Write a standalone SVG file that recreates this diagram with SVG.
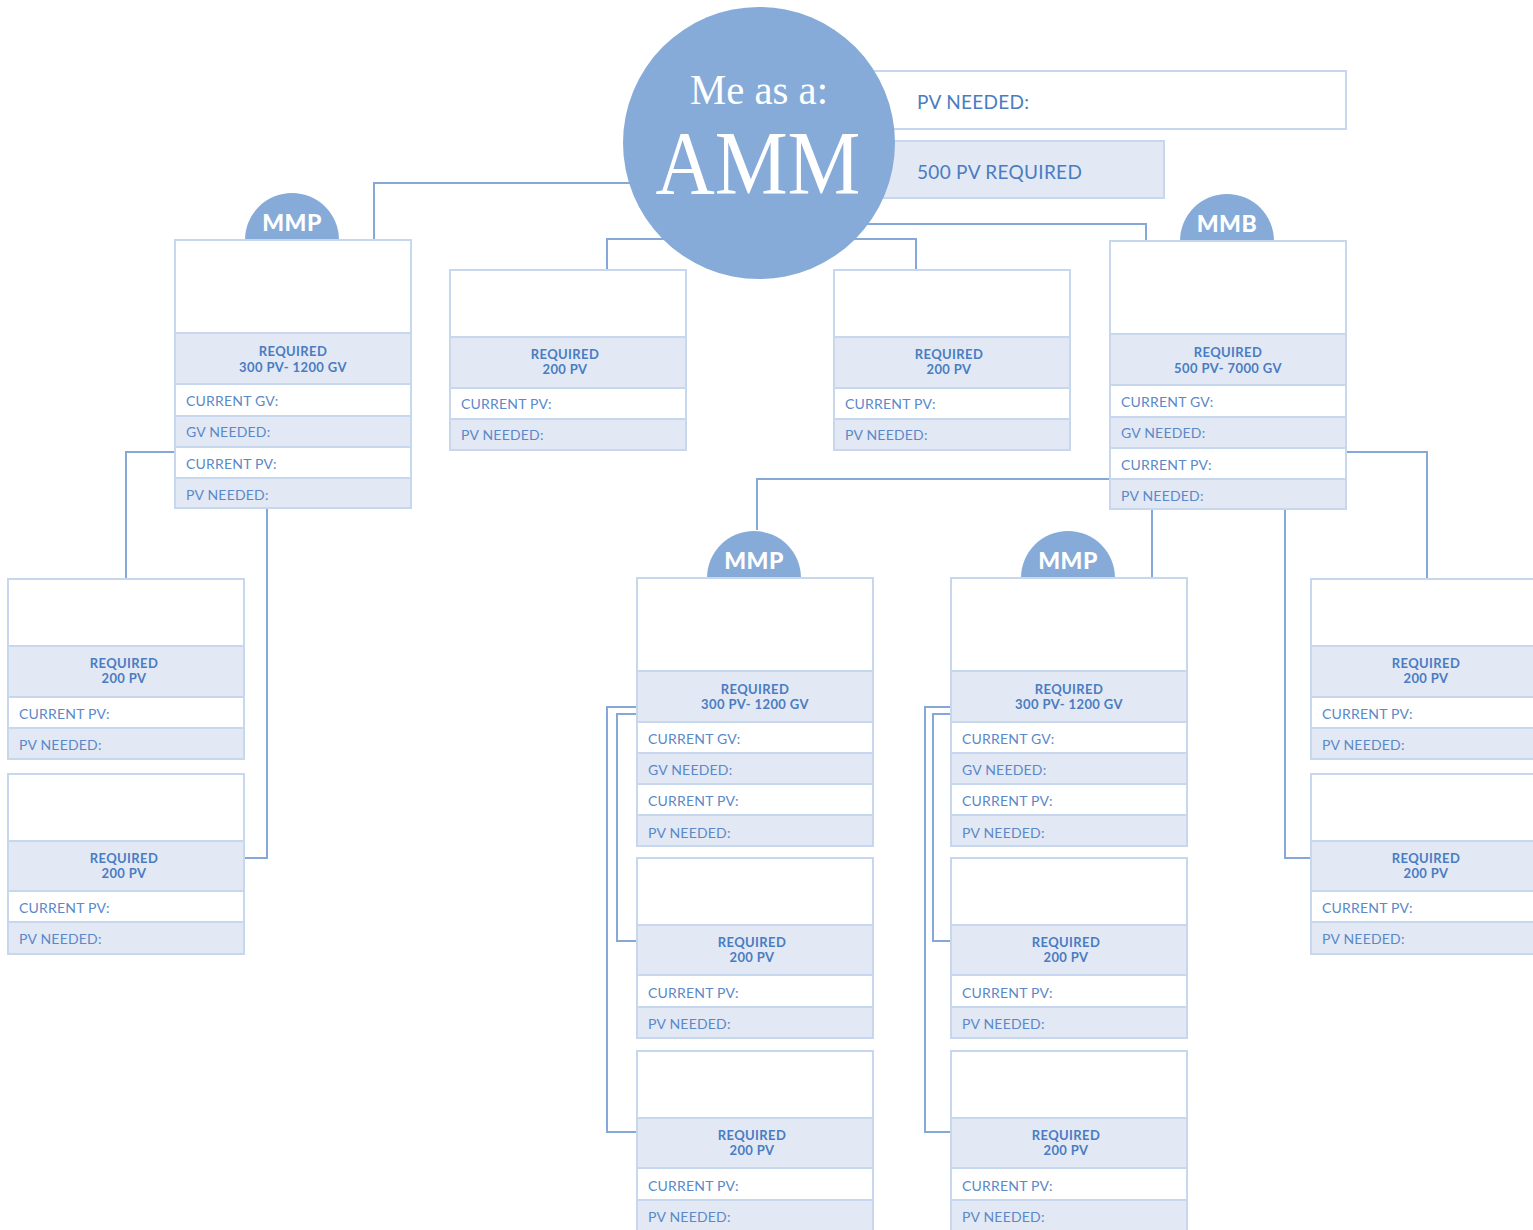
<svg xmlns="http://www.w3.org/2000/svg" width="1533" height="1230" viewBox="0 0 1533 1230">
<style>
.bg{fill:#ffffff}
.w{fill:#ffffff;stroke:#c6d7ee;stroke-width:2}
.f{fill:#e2e9f5;stroke:#c6d7ee;stroke-width:2}
.c{fill:none;stroke:#86a8d8;stroke-width:2}
.badge{fill:#86abd9}
.bt{font-family:"Lato","Open Sans","DejaVu Sans",sans-serif;font-weight:900;font-size:23px;fill:#ffffff;text-anchor:middle;letter-spacing:0.5px}
.h{font-family:"Lato","Open Sans","DejaVu Sans",sans-serif;font-weight:700;font-size:13px;fill:#4a7cc2;text-anchor:middle;letter-spacing:0.4px}
.r{font-family:"Lato","Open Sans","DejaVu Sans",sans-serif;font-size:14px;fill:#5a88c8;letter-spacing:0.2px}
.t{font-family:"Lato","Open Sans","DejaVu Sans",sans-serif;font-size:19px;fill:#4a7cc2;letter-spacing:0.3px}
.serif{font-family:"Liberation Serif","DejaVu Serif",serif;fill:#ffffff;text-anchor:middle}
</style>
<rect class="bg" x="0" y="0" width="1533" height="1230"/>

<g id="connectors">
<polyline class="c" points="640,183 374,183 374,240"/>
<polyline class="c" points="680,239 607,239 607,270"/>
<polyline class="c" points="840,239 916,239 916,270"/>
<polyline class="c" points="860,224 1146,224 1146,241"/>
<polyline class="c" points="175,452 126,452 126,579"/>
<polyline class="c" points="267,508 267,858 244,858"/>
<polyline class="c" points="1110,479 757,479 757,530"/>
<polyline class="c" points="1152,509 1152,578"/>
<polyline class="c" points="1346,452 1427,452 1427,579"/>
<polyline class="c" points="1285,509 1285,858 1311,858"/>
<polyline class="c" points="637,714 617,714 617,941 637,941"/>
<polyline class="c" points="637,707 607,707 607,1132 637,1132"/>
<polyline class="c" points="951,714 933,714 933,941 951,941"/>
<polyline class="c" points="951,707 925,707 925,1132 951,1132"/>
</g>

<g id="pv-needed-top">
<rect class="w" x="850" y="71" width="496" height="58"/>
<text class="t" x="917" y="109">PV NEEDED:</text>
</g>
<g id="pv-required-top">
<rect class="f" x="850" y="141" width="314" height="57"/>
<text class="t" x="917" y="179">500 PV REQUIRED</text>
</g>

<g id="amm">
<circle cx="759" cy="143" r="136" fill="#86abd9"/>
<text class="serif" x="759" y="104" font-size="43" textLength="138" lengthAdjust="spacingAndGlyphs">Me as a:</text>
<text class="serif" x="758" y="194" font-size="90" textLength="205" lengthAdjust="spacingAndGlyphs">AMM</text>
</g>

<!-- MMP left -->
<g id="mmp-left" transform="translate(175,240)">
<circle class="badge" cx="117" cy="0" r="47"/>
<text class="bt" x="117" y="-9">MMP</text>
<rect class="w" x="0" y="0" width="236" height="93"/>
<rect class="f" x="0" y="93" width="236" height="51"/>
<rect class="w" x="0" y="144" width="236" height="32"/>
<rect class="f" x="0" y="176" width="236" height="31"/>
<rect class="w" x="0" y="207" width="236" height="31"/>
<rect class="f" x="0" y="238" width="236" height="30"/>
<text class="h" x="118" y="116">REQUIRED</text>
<text class="h" x="118" y="132">300 PV- 1200 GV</text>
<text class="r" x="11" y="166">CURRENT GV:</text>
<text class="r" x="11" y="197">GV NEEDED:</text>
<text class="r" x="11" y="229">CURRENT PV:</text>
<text class="r" x="11" y="260">PV NEEDED:</text>
</g>

<g id="box-top-2" transform="translate(450,270)">
<rect class="w" x="0" y="0" width="236" height="67"/>
<rect class="f" x="0" y="67" width="236" height="51"/>
<rect class="w" x="0" y="118" width="236" height="31"/>
<rect class="f" x="0" y="149" width="236" height="31"/>
<text class="h" x="115" y="89">REQUIRED</text>
<text class="h" x="115" y="104">200 PV</text>
<text class="r" x="11" y="139">CURRENT PV:</text>
<text class="r" x="11" y="170">PV NEEDED:</text>
</g>

<g id="box-top-3" transform="translate(834,270)">
<rect class="w" x="0" y="0" width="236" height="67"/>
<rect class="f" x="0" y="67" width="236" height="51"/>
<rect class="w" x="0" y="118" width="236" height="31"/>
<rect class="f" x="0" y="149" width="236" height="31"/>
<text class="h" x="115" y="89">REQUIRED</text>
<text class="h" x="115" y="104">200 PV</text>
<text class="r" x="11" y="139">CURRENT PV:</text>
<text class="r" x="11" y="170">PV NEEDED:</text>
</g>

<!-- MMB -->
<g id="mmb" transform="translate(1110,241)">
<circle class="badge" cx="117" cy="0" r="47"/>
<text class="bt" x="117" y="-9">MMB</text>
<rect class="w" x="0" y="0" width="236" height="93"/>
<rect class="f" x="0" y="93" width="236" height="51"/>
<rect class="w" x="0" y="144" width="236" height="32"/>
<rect class="f" x="0" y="176" width="236" height="31"/>
<rect class="w" x="0" y="207" width="236" height="31"/>
<rect class="f" x="0" y="238" width="236" height="30"/>
<text class="h" x="118" y="116">REQUIRED</text>
<text class="h" x="118" y="132">500 PV- 7000 GV</text>
<text class="r" x="11" y="166">CURRENT GV:</text>
<text class="r" x="11" y="197">GV NEEDED:</text>
<text class="r" x="11" y="229">CURRENT PV:</text>
<text class="r" x="11" y="260">PV NEEDED:</text>
</g>

<g id="left-1" transform="translate(8,579)">
<rect class="w" x="0" y="0" width="236" height="67"/>
<rect class="f" x="0" y="67" width="236" height="51"/>
<rect class="w" x="0" y="118" width="236" height="31"/>
<rect class="f" x="0" y="149" width="236" height="31"/>
<text class="h" x="116" y="89">REQUIRED</text>
<text class="h" x="116" y="104">200 PV</text>
<text class="r" x="11" y="140">CURRENT PV:</text>
<text class="r" x="11" y="171">PV NEEDED:</text>
</g>

<g id="left-2" transform="translate(8,774)">
<rect class="w" x="0" y="0" width="236" height="67"/>
<rect class="f" x="0" y="67" width="236" height="50"/>
<rect class="w" x="0" y="117" width="236" height="31"/>
<rect class="f" x="0" y="148" width="236" height="32"/>
<text class="h" x="116" y="89">REQUIRED</text>
<text class="h" x="116" y="104">200 PV</text>
<text class="r" x="11" y="139">CURRENT PV:</text>
<text class="r" x="11" y="170">PV NEEDED:</text>
</g>

<!-- Middle MMP column -->
<g id="mmp-mid" transform="translate(637,578)">
<circle class="badge" cx="117" cy="0" r="47"/>
<text class="bt" x="117" y="-9">MMP</text>
<rect class="w" x="0" y="0" width="236" height="93"/>
<rect class="f" x="0" y="93" width="236" height="51"/>
<rect class="w" x="0" y="144" width="236" height="31"/>
<rect class="f" x="0" y="175" width="236" height="31"/>
<rect class="w" x="0" y="206" width="236" height="31"/>
<rect class="f" x="0" y="237" width="236" height="31"/>
<text class="h" x="118" y="116">REQUIRED</text>
<text class="h" x="118" y="131">300 PV- 1200 GV</text>
<text class="r" x="11" y="166">CURRENT GV:</text>
<text class="r" x="11" y="197">GV NEEDED:</text>
<text class="r" x="11" y="228">CURRENT PV:</text>
<text class="r" x="11" y="260">PV NEEDED:</text>
</g>

<g id="mid-2" transform="translate(637,858)">
<rect class="w" x="0" y="0" width="236" height="67"/>
<rect class="f" x="0" y="67" width="236" height="50"/>
<rect class="w" x="0" y="117" width="236" height="32"/>
<rect class="f" x="0" y="149" width="236" height="31"/>
<text class="h" x="115" y="89">REQUIRED</text>
<text class="h" x="115" y="104">200 PV</text>
<text class="r" x="11" y="140">CURRENT PV:</text>
<text class="r" x="11" y="171">PV NEEDED:</text>
</g>

<g id="mid-3" transform="translate(637,1051)">
<rect class="w" x="0" y="0" width="236" height="67"/>
<rect class="f" x="0" y="67" width="236" height="50"/>
<rect class="w" x="0" y="117" width="236" height="32"/>
<rect class="f" x="0" y="149" width="236" height="31"/>
<text class="h" x="115" y="89">REQUIRED</text>
<text class="h" x="115" y="104">200 PV</text>
<text class="r" x="11" y="140">CURRENT PV:</text>
<text class="r" x="11" y="171">PV NEEDED:</text>
</g>

<!-- Second MMP column -->
<g id="mmp-mid2" transform="translate(951,578)">
<circle class="badge" cx="117" cy="0" r="47"/>
<text class="bt" x="117" y="-9">MMP</text>
<rect class="w" x="0" y="0" width="236" height="93"/>
<rect class="f" x="0" y="93" width="236" height="51"/>
<rect class="w" x="0" y="144" width="236" height="31"/>
<rect class="f" x="0" y="175" width="236" height="31"/>
<rect class="w" x="0" y="206" width="236" height="31"/>
<rect class="f" x="0" y="237" width="236" height="31"/>
<text class="h" x="118" y="116">REQUIRED</text>
<text class="h" x="118" y="131">300 PV- 1200 GV</text>
<text class="r" x="11" y="166">CURRENT GV:</text>
<text class="r" x="11" y="197">GV NEEDED:</text>
<text class="r" x="11" y="228">CURRENT PV:</text>
<text class="r" x="11" y="260">PV NEEDED:</text>
</g>

<g id="mid2-2" transform="translate(951,858)">
<rect class="w" x="0" y="0" width="236" height="67"/>
<rect class="f" x="0" y="67" width="236" height="50"/>
<rect class="w" x="0" y="117" width="236" height="32"/>
<rect class="f" x="0" y="149" width="236" height="31"/>
<text class="h" x="115" y="89">REQUIRED</text>
<text class="h" x="115" y="104">200 PV</text>
<text class="r" x="11" y="140">CURRENT PV:</text>
<text class="r" x="11" y="171">PV NEEDED:</text>
</g>

<g id="mid2-3" transform="translate(951,1051)">
<rect class="w" x="0" y="0" width="236" height="67"/>
<rect class="f" x="0" y="67" width="236" height="50"/>
<rect class="w" x="0" y="117" width="236" height="32"/>
<rect class="f" x="0" y="149" width="236" height="31"/>
<text class="h" x="115" y="89">REQUIRED</text>
<text class="h" x="115" y="104">200 PV</text>
<text class="r" x="11" y="140">CURRENT PV:</text>
<text class="r" x="11" y="171">PV NEEDED:</text>
</g>

<!-- Right column -->
<g id="right-1" transform="translate(1311,579)">
<rect class="w" x="0" y="0" width="236" height="67"/>
<rect class="f" x="0" y="67" width="236" height="51"/>
<rect class="w" x="0" y="118" width="236" height="31"/>
<rect class="f" x="0" y="149" width="236" height="31"/>
<text class="h" x="115" y="89">REQUIRED</text>
<text class="h" x="115" y="104">200 PV</text>
<text class="r" x="11" y="140">CURRENT PV:</text>
<text class="r" x="11" y="171">PV NEEDED:</text>
</g>

<g id="right-2" transform="translate(1311,774)">
<rect class="w" x="0" y="0" width="236" height="67"/>
<rect class="f" x="0" y="67" width="236" height="50"/>
<rect class="w" x="0" y="117" width="236" height="31"/>
<rect class="f" x="0" y="148" width="236" height="32"/>
<text class="h" x="115" y="89">REQUIRED</text>
<text class="h" x="115" y="104">200 PV</text>
<text class="r" x="11" y="139">CURRENT PV:</text>
<text class="r" x="11" y="170">PV NEEDED:</text>
</g>
</svg>
